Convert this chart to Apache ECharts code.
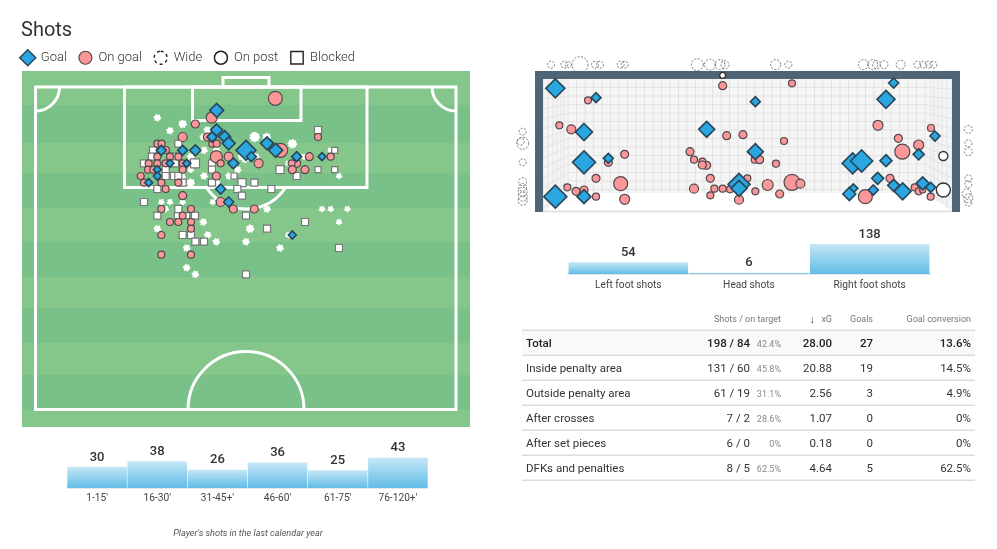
<!DOCTYPE html>
<html>
<head>
<meta charset="utf-8">
<style>html,body{margin:0;padding:0;background:#fff}#c{width:997px;height:549px}</style>
<script src="https://cdn.jsdelivr.net/npm/echarts@6/dist/echarts.min.js"></script>
</head>
<body>
<div id="c"></div>
<script>
// ---- shot map values: [across pitch, from goal line, marker size]
const pitchGoal = [[290,76,14],[290,135,12],[276,156,10],[314,155,12],[326,175,13],[378,196,20],[394,215,10],[340,235,11],[441,175,13],[467,196,14],[124,196,10],[188,196,10],[226,196,11],[150,235,8],[200,235,8],[112,254,8],[112,273,8],[86,293,8],[530,215,10],[606,215,8],[302,312,10],[326,351,10],[517,450,8]];
const pitchOnGoal = [[466,40,14],[275,98,11],[226,117,8],[188,156,9],[262,156,8],[277,176,7],[290,176,7],[112,176,7],[125,176,7],[138,195,7],[112,215,7],[150,215,7],[175,215,7],[289,215,12],[326,215,9],[302,235,7],[416,235,9],[86,235,7],[112,235,7],[137,235,7],[188,235,7],[84,254,7],[100,254,7],[188,254,7],[62,273,7],[124,293,7],[72,293,7],[175,293,7],[137,312,7],[289,273,8],[188,332,8],[302,351,9],[594,156,7],[568,215,8],[632,215,7],[530,235,8],[515,235,7],[517,254,8],[555,254,8],[482,196,14],[124,372,7],[213,372,7],[188,392,7],[150,411,7],[175,411,7],[213,411,7],[213,431,7],[124,450,7],[340,372,8],[403,372,8],[124,509,7],[213,509,7]];
const pitchWide = [[112,98,6],[150,137,6],[188,117,7],[262,135,6],[404,156,9],[440,156,7],[250,156,6],[290,196,6],[252,196,6],[517,176,8],[212,215,6],[408,215,6],[375,223,6],[365,215,6],[353,254,6],[212,254,5],[252,273,6],[327,273,6],[212,293,7],[290,293,6],[186,275,6],[657,273,5],[632,196,5],[124,351,5],[150,351,5],[188,351,5],[552,215,5],[505,235,5],[278,351,5],[137,372,5],[441,372,6],[606,372,5],[632,372,5],[682,372,5],[657,411,5],[250,411,6],[112,431,6],[390,431,7],[263,450,6],[289,470,6],[378,470,6],[505,450,5],[480,489,6],[200,489,6],[200,548,6],[226,568,6]];
const pitchBlocked = [[594,135,7],[644,196,6],[175,176,7],[99,196,7],[96,215,7],[160,215,7],[72,235,7],[165,235,7],[225,235,9],[276,235,7],[276,254,7],[137,254,7],[480,254,8],[594,254,6],[644,254,6],[137,273,7],[162,273,7],[175,273,7],[342,273,6],[530,273,7],[366,293,8],[403,293,7],[188,293,7],[112,312,7],[352,312,7],[454,312,7],[366,332,7],[72,351,7],[276,293,7],[175,372,7],[112,392,7],[172,392,6],[200,392,6],[225,392,7],[378,392,7],[441,431,7],[555,411,7],[188,450,7],[213,450,7],[226,470,7],[252,470,7],[657,489,7],[378,568,7]];

// ---- goal mouth values: [along goal, height, marker size]
const goalGoal = [[136,115,19],[258,143,10],[222,246,17],[222,337,23],[295,325,10],[136,440,23],[222,440,14],[590,238,16],[687,403,22],[687,415,16],[736,155,10],[1151,99,10],[1128,148,18],[736,305,16],[1028,340,21],[1055,333,22],[1128,332,12],[1103,385,12],[1275,258,10],[1226,313,11],[1030,415,9],[1018,432,13],[1090,420,10],[1151,406,12],[1178,424,17],[1238,400,13],[1262,412,10]];
const goalOnGoal = [[234,151,7],[148,226,7],[184,238,9],[638,107,8],[650,257,8],[699,254,8],[344,313,8],[540,305,8],[295,337,8],[552,329,7],[577,335,7],[590,346,8],[577,345,8],[258,385,8],[332,401,14],[172,412,7],[198,424,8],[222,420,8],[258,440,7],[344,448,10],[552,416,9],[601,385,8],[613,416,7],[638,416,7],[660,418,7],[712,385,7],[601,436,7],[687,449,9],[846,100,7],[822,273,7],[1104,226,10],[1165,265,8],[1263,234,7],[1226,285,10],[1177,305,15],[798,341,7],[734,329,7],[749,329,8],[773,405,11],[846,397,16],[871,401,9],[736,424,7],[809,432,8],[1066,440,14],[1140,385,8],[1214,412,7],[1226,424,7],[1238,420,6],[1262,440,7]];
const goalPost = [[1300,318,9],[1300,420,14],[638,76,6]];
const goalWide = [[123,44,7],[163,44,7],[175,44,6],[210,44,16],[255,44,7],[270,44,7],[332,44,7],[344,44,7],[562,44,12],[600,44,11],[630,44,10],[645,44,8],[38,245,7],[38,280,12],[32,275,7],[38,337,7],[38,395,8],[38,412,8],[38,425,9],[38,440,9],[38,452,9],[797,44,10],[835,44,7],[1060,44,10],[1088,44,10],[1100,44,8],[1122,44,8],[1172,44,9],[1222,44,7],[1240,44,7],[1256,44,7],[1270,44,7],[1375,238,8],[1375,280,7],[1375,305,8],[1375,385,7],[1375,403,7],[1370,430,9],[1375,445,9],[1375,458,7]];

// ---- bar charts
const minuteLabels = ["1-15'", "16-30'", "31-45+'", "46-60'", "61-75'", "76-120+'"];
const minuteShots = [30, 38, 26, 36, 25, 43];
const footLabels = ["Left foot shots", "Head shots", "Right foot shots"];
const footShots = [54, 6, 138];

// ---- table
const tableHeaders = ["Shots / on target", "xG", "Goals", "Goal conversion"];
const tableRows = ["Total", "Inside penalty area", "Outside penalty area", "After crosses", "After set pieces", "DFKs and penalties"];
const tableShots = ["198 / 84", "131 / 60", "61 / 19", "7 / 2", "6 / 0", "8 / 5"];
const tablePct = ["42.4%", "45.8%", "31.1%", "28.6%", "0%", "62.5%"];
const tableXg = ["28.00", "20.88", "2.56", "1.07", "0.18", "4.64"];
const tableGoals = ["27", "19", "3", "0", "0", "5"];
const tableConv = ["13.6%", "14.5%", "4.9%", "0%", "0%", "62.5%"];

const FONT = 'Roboto, sans-serif';
const chart = echarts.init(document.getElementById('c'));

// page-pixel to axis-unit converters for the two drawings
const px = x => (x - 120) * 3, py = y => (y - 85) * 3;
const gx = x => (x - 510) * 3, gy = y => (y - 50) * 3;

function pitchRender(params, api) {
  const c = (x, y) => api.coord([px(x), py(y)]);
  const rect = (x0, y0, x1, y1, fill) => {
    const a = c(x0, y0), b = c(x1, y1);
    return {type:'rect', shape:{x:a[0], y:a[1], width:b[0]-a[0], height:b[1]-a[1]}, style:{fill}};
  };
  const line = {stroke:'#fff', lineWidth:3, fill:'none'};
  const box = (x0, y0, x1, y1) => {
    const a = c(x0, y0), b = c(x1, y1);
    return {type:'rect', shape:{x:a[0], y:a[1], width:b[0]-a[0], height:b[1]-a[1]}, style:line};
  };
  const arc = (cx, cy, r, s, e) => {
    const o = c(cx, cy);
    return {type:'arc', shape:{cx:o[0], cy:o[1], r, startAngle:s, endAngle:e}, style:line};
  };
  const bands = [71,105,143,173,208,242,277,308,343,375,410,427];
  const children = [];
  for (let i = 0; i < bands.length - 1; i++) {
    children.push(rect(22, bands[i], 470, bands[i+1], i % 2 ? '#7ac189' : '#85c78b'));
  }
  children.push(box(35.5, 87, 456, 409.5), box(124.5, 87, 367, 187.5), box(192.5, 87, 301, 120.5), box(223, 77.5, 269, 87));
  children.push(arc(35.5, 87, 24, 0, Math.PI/2), arc(456, 87, 24, Math.PI/2, Math.PI));
  children.push(arc(246, 162, 47, 0.56, Math.PI-0.56));
  children.push(arc(246, 409.5, 58, Math.PI, 2*Math.PI));
  return {type:'group', children};
}

function goalRender(params, api) {
  const c = (x, y) => api.coord([gx(x), gy(y)]);
  const rect = (x0, y0, x1, y1, fill) => {
    const a = c(x0, y0), b = c(x1, y1);
    return {type:'rect', shape:{x:a[0], y:a[1], width:b[0]-a[0], height:b[1]-a[1]}, style:{fill}};
  };
  const seg = (x0, y0, x1, y1) => {
    const a = c(x0, y0), b = c(x1, y1);
    return {type:'line', shape:{x1:a[0], y1:a[1], x2:b[0], y2:b[1]}, style:{stroke:'#e3e3e3', lineWidth:1}};
  };
  const children = [rect(543, 79, 952, 212, '#f5f5f5')];
  const L = 568, R = 925, T = 79, B = 193, F = 212;
  for (let x = L; x <= R + 1; x += 8.5) children.push(seg(x, T, x, B));
  for (let y = T + 8.5; y <= B; y += 8.5) {
    const y2 = T + (y - T) * (F - T) / (B - T);
    children.push(seg(L, y, R, y), seg(L, y, 543, y2), seg(R, y, 952, y2));
  }
  [0, 5, 10, 14, 18, 21].forEach(d => {
    const yb = B + (F - B) * (L - (543 + d)) / (L - 543);
    children.push(seg(543 + d, T, 543 + d, yb));
    children.push(seg(952 - d, T, 952 - d, yb));
  });
  const g = [c(543, F), c(L, B), c(R, B), c(952, F)];
  children.push({type:'polygon', shape:{points:g}, style:{fill:'#fff'}});
  children.push(rect(543, 210.5, 952, 212.5, '#e4e4e4'));
  children.push(rect(535, 71, 960, 79, '#4f6475'), rect(535, 71, 543, 212, '#4f6475'), rect(952, 71, 960, 212, '#4f6475'));
  return {type:'group', children};
}

const sz = v => v[2];
const scatter = (name, data, axis, symbol, itemStyle, z) => ({
  name, type:'scatter', data, symbol, symbolSize:sz, xAxisIndex:axis, yAxisIndex:axis,
  itemStyle:Object.assign({opacity:1}, itemStyle), z, silent:true, animation:false, clip:false
});
const gradient = {type:'linear', x:0, y:0, x2:0, y2:1, colorStops:[{offset:0, color:'#c6e7f6'}, {offset:1, color:'#62bce7'}]};
const bars = (data, axis) => ({
  type:'bar', data, xAxisIndex:axis, yAxisIndex:axis, barCategoryGap:'1%', animation:false, silent:true,
  itemStyle:{color:gradient},
  label:{show:true, position:'top', distance:3, fontFamily:FONT, fontSize:13, fontWeight:500, color:'#333'}
});
const catAxis = (data, gridIndex, margin) => ({
  type:'category', gridIndex, data, axisTick:{show:false}, axisLine:{lineStyle:{color:'#e6e6e6', width:2}},
  axisLabel:{fontFamily:FONT, fontSize:10.2, color:'#444', margin, interval:0}
});

const styleGoal = {color:'#2aa6e0', borderColor:'#2a4658', borderWidth:1.6};
const styleOn = {color:'#fb9699', borderColor:'#51494c', borderWidth:1.2};
const stylePitchWide = {color:'#fff', borderColor:'#fff', borderWidth:1.6, borderType:[1.5,1.5]};
const styleGoalWide = {color:'rgba(255,255,255,0)', borderColor:'#555', borderWidth:0.8, borderType:[2,1.5]};
const stylePost = {color:'#fff', borderColor:'#333', borderWidth:1.4};
const styleBlocked = {color:'#fff', borderColor:'#777', borderWidth:1.2};

// table graphics
const g = [];
const txt = (text, x, y, o) => g.push({type:'text', x, y, silent:true, style:Object.assign({text, fontFamily:FONT, fontSize:11.5, fill:'#333', align:'right', verticalAlign:'middle'}, o)});
const hline = y => g.push({type:'rect', silent:true, shape:{x:522, y, width:453, height:1.6}, style:{fill:'#dcdcdc'}});
g.push({type:'rect', silent:true, shape:{x:522, y:330, width:453, height:25}, style:{fill:'#f9f9f9'}});
const head = {fontSize:9, fill:'#777'};
txt(tableHeaders[0], 781, 320, head);
txt(tableHeaders[1], 832, 320, head);
txt('\u2193', 815, 320, {fontSize:11, fill:'#555'});
txt(tableHeaders[2], 873, 320, head);
txt(tableHeaders[3], 971, 320, head);
hline(329.4);
tableRows.forEach((r, i) => {
  const y = 344 + i * 25, w = i === 0 ? 500 : 400, col = i === 0 ? '#222' : '#333';
  hline(354.4 + i * 25);
  txt(r, 526, y, {align:'left', fontWeight:w, fill:col});
  txt(tableShots[i], 750, y, {fontWeight:w, fill:col});
  txt(tablePct[i], 781, y + 0.5, {fontSize:9, fill:'#888'});
  txt(tableXg[i], 832, y, {fontWeight:w, fill:col});
  txt(tableGoals[i], 873, y, {fontWeight:w, fill:col});
  txt(tableConv[i], 971, y, {fontWeight:w, fill:col});
});

const hiddenVal = (gridIndex, min, max, inverse) => ({type:'value', gridIndex, min, max, inverse:!!inverse, show:false, splitLine:{show:false}});

// legend icons drawn in a 16x16 box so that the circles and the square stay smaller than the diamond
const iconCircle = 'path://M0 0M16 16M8 1.5A6.5 6.5 0 1 1 8 14.5A6.5 6.5 0 1 1 8 1.5Z';
const iconSquare = 'path://M0 0M16 16M1.8 1.8L14.2 1.8L14.2 14.2L1.8 14.2Z';

chart.setOption({
  animation:false,
  backgroundColor:'#fff',
  title:[
    {text:'Shots', left:16, top:16, textStyle:{fontFamily:FONT, fontSize:20, fontWeight:400, color:'#333'}},
    {text:"Player's shots in the last calendar year", left:243, top:524, textAlign:'center',
     textStyle:{fontFamily:FONT, fontSize:9.1, fontWeight:400, fontStyle:'italic', color:'#555'}}
  ],
  legend:{
    left:14, top:44, itemWidth:16, itemHeight:16, itemGap:10, selectedMode:false,
    textStyle:{fontFamily:FONT, fontSize:13, fontWeight:300, color:'#333'},
    data:[
      {name:'Goal', icon:'diamond', itemStyle:{color:'#2aa6e0', borderColor:'#2a4658', borderWidth:1.5}},
      {name:'On goal', icon:iconCircle, itemStyle:{color:'#fb9699', borderColor:'#51494c', borderWidth:1.2}},
      {name:'Wide', icon:iconCircle, itemStyle:{color:'#fff', borderColor:'#222', borderWidth:1.4, borderType:[3,3]}},
      {name:'On post', icon:iconCircle, itemStyle:{color:'#fff', borderColor:'#222', borderWidth:1.5}},
      {name:'Blocked', icon:iconSquare, itemStyle:{color:'#fff', borderColor:'#222', borderWidth:1.4}}
    ]
  },
  grid:[
    {left:22, top:71, width:448, height:356},
    {left:510, top:50, width:480, height:170},
    {left:67, top:440, width:361, height:48},
    {left:568, top:226, width:362, height:48}
  ],
  xAxis:[
    hiddenVal(0, -294, 1050),
    hiddenVal(1, 0, 1440),
    catAxis(minuteLabels, 2, 5),
    catAxis(footLabels, 3, 6)
  ],
  yAxis:[
    hiddenVal(0, -42, 1026, true),
    hiddenVal(1, 0, 510, true),
    hiddenVal(2, 0, 68),
    hiddenVal(3, 0, 220)
  ],
  series:[
    {type:'custom', xAxisIndex:0, yAxisIndex:0, data:[[0,0]], renderItem:pitchRender, silent:true, z:1, clip:false},
    {type:'custom', xAxisIndex:1, yAxisIndex:1, data:[[0,0]], renderItem:goalRender, silent:true, z:1, clip:false},
    scatter('Wide', pitchWide, 0, 'circle', stylePitchWide, 2),
    scatter('Blocked', pitchBlocked, 0, 'rect', styleBlocked, 3),
    scatter('On goal', pitchOnGoal, 0, 'circle', styleOn, 4),
    scatter('Goal', pitchGoal, 0, 'diamond', styleGoal, 5),
    scatter('Wide', goalWide, 1, 'circle', styleGoalWide, 2),
    scatter('On goal', goalOnGoal, 1, 'circle', styleOn, 3),
    scatter('On post', goalPost, 1, 'circle', stylePost, 4),
    scatter('Goal', goalGoal, 1, 'diamond', styleGoal, 5),
    bars(minuteShots, 2),
    bars(footShots, 3)
  ],
  graphic:{elements:g}
});
</script>
</body>
</html>
